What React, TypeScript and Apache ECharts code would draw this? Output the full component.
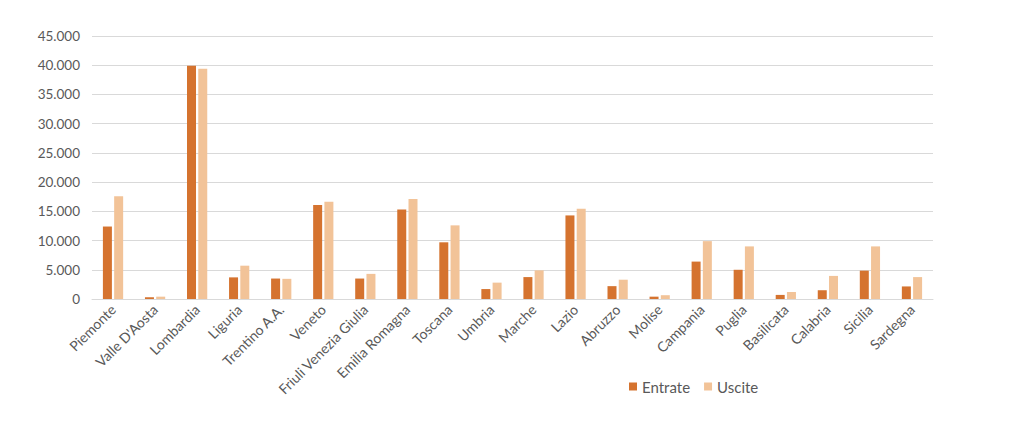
import { useEffect, useRef } from 'react';
import * as echarts from 'echarts';

const regions = [
  'Piemonte', "Valle D'Aosta", 'Lombardia', 'Liguria', 'Trentino A.A.', 'Veneto',
  'Friuli Venezia Giulia', 'Emilia Romagna', 'Toscana', 'Umbria', 'Marche', 'Lazio',
  'Abruzzo', 'Molise', 'Campania', 'Puglia', 'Basilicata', 'Calabria', 'Sicilia', 'Sardegna'
];

const entrate = [
  12400, 300, 39900, 3700, 3500, 16100, 3500, 15300, 9700, 1700,
  3750, 14300, 2200, 400, 6400, 5000, 700, 1500, 4850, 2150
];

const uscite = [
  17600, 400, 39400, 5700, 3450, 16650, 4300, 17100, 12600, 2800,
  4900, 15450, 3300, 650, 9900, 9000, 1200, 3950, 9000, 3750
];

const fmt = (v: number) => String(v).replace(/\B(?=(\d{3})+(?!\d))/g, '.');

const App = () => {
  const chartRef = useRef<HTMLDivElement>(null);

  useEffect(() => {
    if (!chartRef.current) return;
    const chart = echarts.init(chartRef.current, undefined, { renderer: 'svg' });

    chart.setOption({
      animation: false,
      textStyle: { fontFamily: 'Lato' },
      // body has an 8px margin, so page coords are shifted by 8
      grid: { left: 84, right: 83, top: 28, bottom: 117, containLabel: false },
      legend: {
        left: 616,
        top: 366,
        itemWidth: 8,
        itemHeight: 8,
        itemGap: 14,
        icon: 'rect',
        textStyle: { color: '#595959', fontSize: 15, fontFamily: 'Lato' },
        data: ['Entrate', 'Uscite']
      },
      xAxis: {
        type: 'category',
        data: regions,
        axisLine: { lineStyle: { color: '#D9D9D9' } },
        axisTick: { show: false },
        axisLabel: {
          rotate: 45,
          interval: 0,
          color: '#595959',
          fontSize: 14,
          margin: 8
        }
      },
      yAxis: {
        type: 'value',
        min: 0,
        max: 45000,
        interval: 5000,
        axisLine: { show: false },
        axisTick: { show: false },
        splitLine: { lineStyle: { color: '#D9D9D9' } },
        axisLabel: {
          color: '#595959',
          fontSize: 13.5,
          margin: 12,
          formatter: (v: number) => fmt(v)
        }
      },
      series: [
        {
          name: 'Entrate',
          type: 'bar',
          data: entrate,
          barWidth: 9,
          barGap: '25%',
          itemStyle: { color: '#D5732F' }
        },
        {
          name: 'Uscite',
          type: 'bar',
          data: uscite,
          barWidth: 9,
          itemStyle: { color: '#F2C398' }
        }
      ]
    });

    return () => chart.dispose();
  }, []);

  return <div ref={chartRef} style={{ width: 1008, height: 408 }} />;
};

export default App;
